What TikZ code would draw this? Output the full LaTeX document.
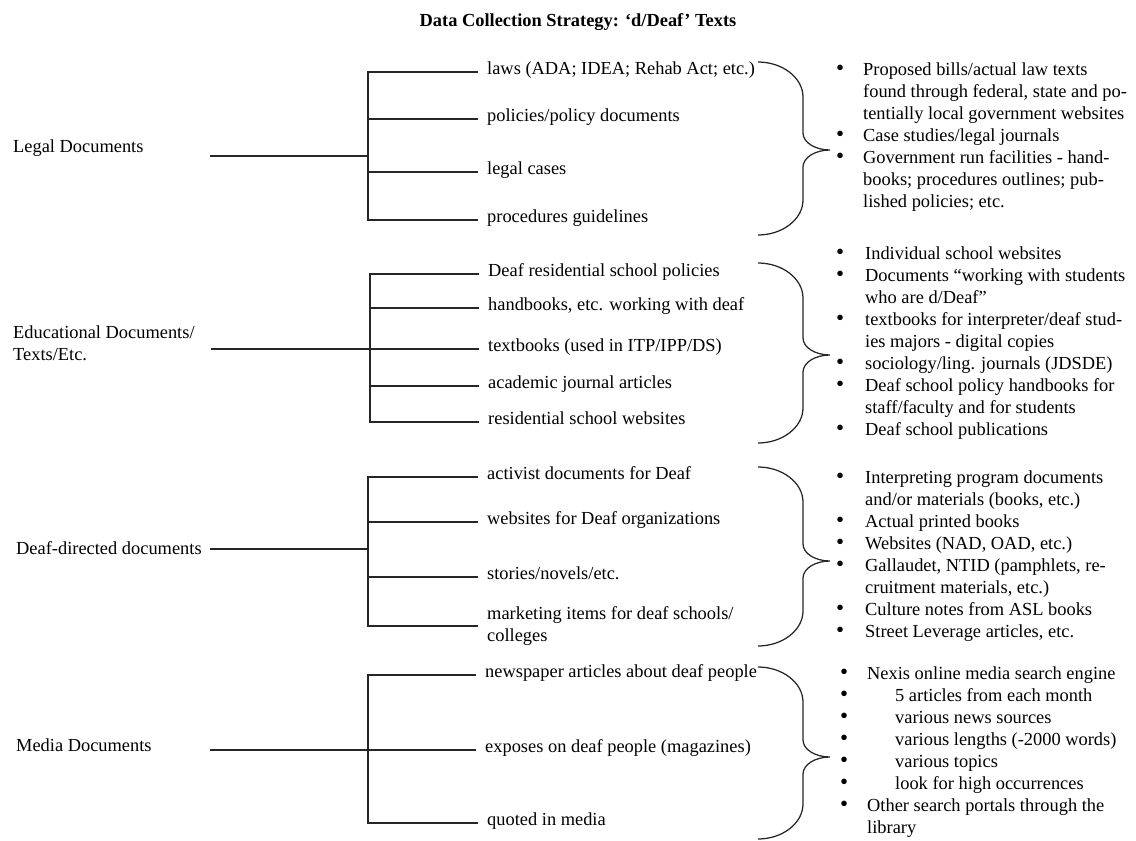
\documentclass[tikz,border=0pt]{standalone}
\usepackage{fontspec}
\setmainfont{Liberation Serif}
\newcommand\RBrace[3]{%
  \draw[bracestyle] (758,#1) .. controls (782.4,#1) and (803,#1+15.7) .. (803,#1+35)
    -- (803,#2-17) .. controls (803,#2-7.6) and (815.1,#2) .. (830,#2)
    .. controls (815.1,#2) and (803,#2+7.6) .. (803,#2+17)
    -- (803,#3-35) .. controls (803,#3-15.7) and (782.4,#3) .. (758,#3);}
\newcommand\bul[1]{\makebox[#1][l]{\fontsize{23}{22}\selectfont •}}
\begin{document}
\begin{tikzpicture}[x=1pt,y=-1pt,
  every node/.style={font=\fontsize{18.4}{22}\selectfont, text=black, inner sep=0pt},
  ln/.style={line width=1.25pt, draw=black!85},
  root/.style={anchor=west, text height=13pt, text depth=4pt},
  rootml/.style={anchor=west, align=left},
  child/.style={anchor=west, inner xsep=9pt, text height=13pt, text depth=8pt},
  childml/.style={anchor=west, inner xsep=9pt, align=left},
  notes/.style={anchor=north west, align=left},
  bracestyle/.style={line width=1.25pt, draw=black!85},
]
\useasboundingbox (0,0) rectangle (1136,841);

% title
\node[anchor=base, font=\fontsize{18.4}{22}\selectfont\bfseries] (title) at (578,26)
  {Data Collection Strategy: ‘d/Deaf’ Texts};

% ---------------- Legal ----------------
\node[root] (L) at (13,148) {Legal Documents};
\node[child] (L1) at (478,72) {laws (ADA; IDEA; Rehab Act; etc.)};
\node[child] (L2) at (478,119) {policies/policy documents};
\node[child] (L3) at (478,172) {legal cases};
\node[child] (L4) at (478,220) {procedures guidelines};
\coordinate (Ls) at (210,156);
\coordinate (Lj) at (368,156);
\draw[ln] (Ls) -- (Lj);
\draw[ln] (L1.west) -| (Lj |- L4.west) -- (L4.west);
\draw[ln] (Lj |- L2.west) -- (L2.west);
\draw[ln] (Lj |- L3.west) -- (L3.west);
\RBrace{62}{150}{235}
\node[notes] (N1) at (836,62.4) {%
\bul{27pt}Proposed bills/actual law texts\\
\hspace*{27pt}found through federal, state and po-\\
\hspace*{27pt}tentially local government websites\\
\bul{27pt}Case studies/legal journals\\
\bul{27pt}Government run facilities - hand-\\
\hspace*{27pt}books; procedures outlines; pub-\\
\hspace*{27pt}lished policies; etc.};

% ---------------- Educational ----------------
\node[rootml] (E) at (13,343) {Educational Documents/\\Texts/Etc.};
\node[child] (E1) at (479,274) {Deaf residential school policies};
\node[child] (E2) at (479,308) {handbooks, etc. working with deaf};
\node[child] (E3) at (479,349) {textbooks (used in ITP/IPP/DS)};
\node[child] (E4) at (479,386) {academic journal articles};
\node[child] (E5) at (479,422) {residential school websites};
\coordinate (Es) at (211,349);
\coordinate (Ej) at (370,349);
\draw[ln] (Es) -- (Ej);
\draw[ln] (E1.west) -| (Ej |- E5.west) -- (E5.west);
\draw[ln] (Ej |- E2.west) -- (E2.west);
\draw[ln] (Ej |- E3.west) -- (E3.west);
\draw[ln] (Ej |- E4.west) -- (E4.west);
\RBrace{263}{355}{443}
\node[notes] (N2) at (836,246.4) {%
\bul{29pt}Individual school websites\\
\bul{29pt}Documents “working with students\\
\hspace*{29pt}who are d/Deaf”\\
\bul{29pt}textbooks for interpreter/deaf stud-\\
\hspace*{29pt}ies majors - digital copies\\
\bul{29pt}sociology/ling. journals (JDSDE)\\
\bul{29pt}Deaf school policy handbooks for\\
\hspace*{29pt}staff/faculty and for students\\
\bul{29pt}Deaf school publications};

% ---------------- Deaf-directed ----------------
\node[root] (D) at (16,550) {Deaf-directed documents};
\node[child] (D1) at (478,477) {activist documents for Deaf};
\node[child] (D2) at (478,522) {websites for Deaf organizations};
\node[child] (D3) at (478,577) {stories/novels/etc.};
\node[childml] (D4) at (478,626) {marketing items for deaf schools/\\colleges};
\coordinate (Ds) at (210,549);
\coordinate (Dj) at (368,549);
\draw[ln] (Ds) -- (Dj);
\draw[ln] (D1.west) -| (Dj |- D4.west) -- (D4.west);
\draw[ln] (Dj |- D2.west) -- (D2.west);
\draw[ln] (Dj |- D3.west) -- (D3.west);
\RBrace{467}{561}{646}
\node[notes] (N3) at (836,470.4) {%
\bul{29pt}Interpreting program documents\\
\hspace*{29pt}and/or materials (books, etc.)\\
\bul{29pt}Actual printed books\\
\bul{29pt}Websites (NAD, OAD, etc.)\\
\bul{29pt}Gallaudet, NTID (pamphlets, re-\\
\hspace*{29pt}cruitment materials, etc.)\\
\bul{29pt}Culture notes from ASL books\\
\bul{29pt}Street Leverage articles, etc.};

% ---------------- Media ----------------
\node[root] (M) at (16,747) {Media Documents};
\node[child] (M1) at (476,675) {newspaper articles about deaf people};
\node[child] (M2) at (476,750) {exposes on deaf people (magazines)};
\node[child] (M3) at (478,823) {quoted in media};
\coordinate (Ms) at (210,750);
\coordinate (Mj) at (368,750);
\draw[ln] (Ms) -- (Mj);
\draw[ln] (M1.west) -| (Mj |- M3.west) -- (M3.west);
\draw[ln] (Mj |- M2.west) -- (M2.west);
\RBrace{667}{757}{839}
\node[notes] (N4) at (840,666.4) {%
\bul{27pt}Nexis online media search engine\\
\bul{55pt}5 articles from each month\\
\bul{55pt}various news sources\\
\bul{55pt}various lengths (-2000 words)\\
\bul{55pt}various topics\\
\bul{55pt}look for high occurrences\\
\bul{27pt}Other search portals through the\\
\hspace*{27pt}library};
\end{tikzpicture}
\end{document}
